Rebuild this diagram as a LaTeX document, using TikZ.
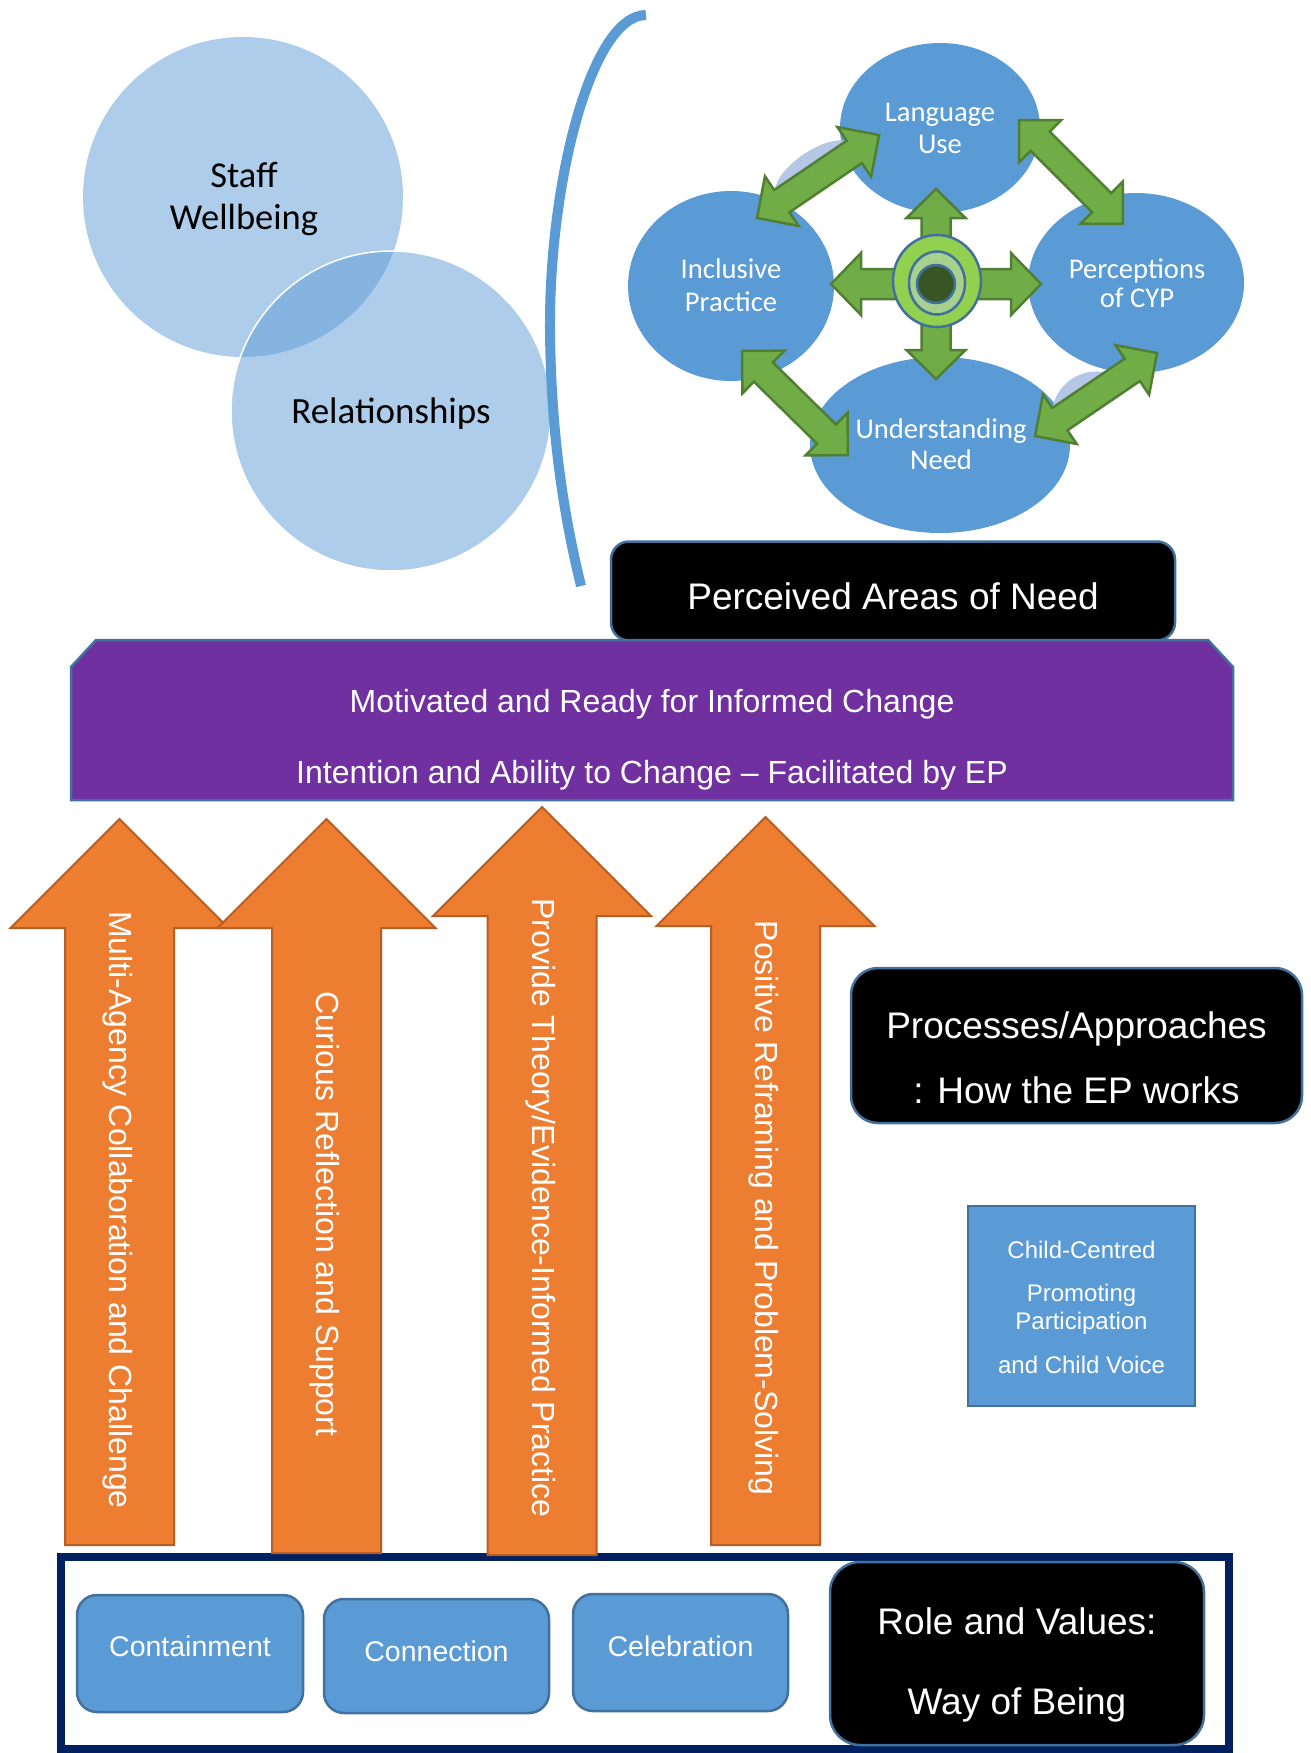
\documentclass[tikz,border=0pt]{standalone}
\usepackage{fontspec}
\setmainfont{Liberation Sans}
\newfontfamily\bodyfont{Carlito}
\usetikzlibrary{shapes.geometric}

\definecolor{accent}{HTML}{5B9BD5}
\definecolor{edge}{HTML}{41719C}
\definecolor{paleaccent}{HTML}{B4C7E7}
\definecolor{orangefill}{HTML}{ED7D31}
\definecolor{orangeedge}{HTML}{B65E23}
\definecolor{purplefill}{HTML}{7030A0}
\definecolor{greenfill}{HTML}{70AD47}
\definecolor{greenedge}{HTML}{507E32}
\definecolor{ringgreen}{HTML}{92D050}
\definecolor{ringpale}{HTML}{A9D18E}
\definecolor{ringdark}{HTML}{375623}
\definecolor{navy}{HTML}{002060}

\newcommand\setpx[1]{\fontsize{#1}{#1}\selectfont}

% double-headed block arrow from a named start point, at an angle, of a given length
\newcommand\twoway[3]{%
  \draw[greenarrow, shift={(#1)}, rotate=#2]
    (0,0) -- (30,30) -- (30,13.5) -- ({#3-30},13.5) -- ({#3-30},30) -- (#3,0)
    -- ({#3-30},-30) -- ({#3-30},-13.5) -- (30,-13.5) -- (30,-30) -- cycle;}

% pale crescent peeking out beside a double arrow
\newcommand\crescent[4]{%
  \fill[paleaccent, shift={(#1)}, rotate=#2]
    (#3,-13) .. controls ({#3+17},-31) and ({#4-17},-31) .. (#4,-13) -- cycle;}

% upward block arrow: name, centre x, tip y, head base y, bottom y
\newcommand\blockup[5]{%
  \draw[orangearrow] (#2,#3) -- ({#2+109},#4) -- ({#2+54.5},#4) -- ({#2+54.5},#5)
    -- ({#2-54.5},#5) -- ({#2-54.5},#4) -- ({#2-109},#4) -- cycle;
  \coordinate (#1) at (#2,#3);}

\tikzset{
  venn/.style={circle, fill=accent, fill opacity=0.5, inner sep=0, minimum size=320pt},
  bubble/.style={ellipse, fill=accent, inner sep=0},
  greenarrow/.style={fill=greenfill, draw=greenedge, line width=2.5pt, line join=miter},
  orangearrow/.style={fill=orangefill, draw=orangeedge, line width=2pt, line join=miter},
  ring/.style={ellipse, draw=edge, line width=2.5pt, inner sep=0},
  darkpanel/.style={rectangle, fill=black, draw=edge, line width=2.5pt, inner sep=0},
  tile/.style={rectangle, fill=accent, draw=edge, line width=2.5pt, inner sep=0},
  lbl/.style={text=white, inner sep=0, anchor=base},
  darklbl/.style={text=black, inner sep=0, anchor=base},
  bubbletext/.style={lbl, font=\bodyfont\setpx{28.6}},
  arrowtext/.style={lbl, rotate=-90, font=\setpx{32}},
}

\begin{document}
\begin{tikzpicture}[x=1pt, y=-1pt]
\useasboundingbox (0,0) rectangle (1311,1753);

% ---- overlapping circles ----
\node[venn] (staff) at (243,197) {};
\node[venn, draw=white, draw opacity=1, line width=1.5pt] (rel) at (391,411) {};
\node[darklbl, font=\bodyfont\setpx{36.5}] (staffA) at (244,187) {Staff};
\node[darklbl, font=\bodyfont\setpx{36.5}] (staffB) at (244,229) {Wellbeing};
\node[darklbl, font=\bodyfont\setpx{37}] (relA) at (391,423) {Relationships};

% ---- bracket ----
\draw[accent, line width=10pt] (646,15) .. controls (592,15) and (549,180) .. (550,330)
  .. controls (551,440) and (565,520) .. (581,586);

% ---- cycle of four bubbles ----
\node[bubble, minimum width=200pt, minimum height=170pt] (lang) at (940,128) {};
\node[bubble, minimum width=206pt, minimum height=190pt] (incl) at (731,286) {};
\node[bubble, minimum width=216pt, minimum height=180pt] (perc) at (1136,283) {};
\node[bubble, minimum width=260pt, minimum height=176pt] (under) at (940,445) {};

\coordinate (a1s) at (757,218);
\coordinate (a2s) at (1019,120);
\coordinate (a3s) at (742,351);
\coordinate (a4s) at (1035,436);
\coordinate (hub) at (936,284);

\crescent{a1s}{34.2}{30}{118}
\crescent{a4s}{34.2}{30}{94}

\twoway{a1s}{34.2}{147.6}
\twoway{a2s}{-45}{147}
\twoway{a3s}{-44.5}{148.5}
\twoway{a4s}{34.2}{147.6}

% four-way arrow at the hub
\draw[greenarrow, shift={(hub)}]
  (0,-95) -- (29.5,-66) -- (14.5,-66) -- (14.5,-15) -- (75,-15) -- (75,-31) -- (105,0)
  -- (75,31) -- (75,15) -- (14.5,15) -- (14.5,66) -- (29.5,66) -- (0,95)
  -- (-29.5,66) -- (-14.5,66) -- (-14.5,15) -- (-75,15) -- (-75,31) -- (-105,0)
  -- (-75,-31) -- (-75,-15) -- (-14.5,-15) -- (-14.5,-66) -- (-29.5,-66) -- cycle;
\node[ring, fill=ringgreen, minimum width=88pt, minimum height=92pt] (hubA) at (937,281) {};
\node[ring, fill=ringpale, minimum width=56pt, minimum height=63pt] (hubB) at (937,283) {};
\node[ring, fill=ringdark, minimum width=38pt, minimum height=38pt] (hubC) at (936,284) {};

\node[bubbletext] (langA) at (940,121) {Language};
\node[bubbletext] (langB) at (940,153) {Use};
\node[bubbletext] (inclA) at (731,278) {Inclusive};
\node[bubbletext] (inclB) at (731,311) {Practice};
\node[bubbletext] (percA) at (1137,278) {Perceptions};
\node[bubbletext] (percB) at (1137,307) {of CYP};
\node[bubbletext] (underA) at (941,438) {Understanding};
\node[bubbletext] (underB) at (941,469) {Need};

% ---- need banner and purple band ----
\node[darkpanel, rounded corners=18pt, minimum width=564pt, minimum height=99pt] (needbox) at (893,591) {};
\node[lbl, font=\setpx{37}] (needtxt) at (893,609) {Perceived Areas of Need};

\draw[fill=purplefill, draw=edge, line width=2.5pt]
  (96,640) -- (1208,640) -- (1233,667) -- (1233,800) -- (71,800) -- (71,667) -- cycle;
\coordinate (band) at (652,720);
\node[lbl, font=\setpx{32}] (bandA) at (652,712) {Motivated and Ready for Informed Change};
\node[lbl, font=\setpx{32}] (bandB) at (652,783) {Intention and Ability to Change – Facilitated by EP};

% ---- base frame ----
\draw[navy, line width=8pt] (61,1557) rectangle (1229,1749);

% ---- upward arrows ----
\blockup{up1}{119.5}{819}{928}{1545}
\blockup{up2}{326.5}{819}{928}{1553}
\blockup{up3}{542}{807}{916}{1555}
\blockup{up4}{765.5}{817}{926}{1545}
\node[arrowtext] (up1t) at (109.5,1210) {Multi-Agency Collaboration and Challenge};
\node[arrowtext] (up2t) at (316.5,1214) {Curious Reflection and Support};
\node[arrowtext] (up3t) at (532,1208) {Provide Theory/Evidence-Informed Practice};
\node[arrowtext] (up4t) at (755.5,1208) {Positive Reframing and Problem-Solving};

% ---- processes panel ----
\node[darkpanel, rounded corners=27pt, minimum width=451pt, minimum height=155pt] (procbox) at (1076.5,1045.5) {};
\node[lbl, font=\setpx{37}] (procA) at (1076.5,1038) {Processes/Approaches};
\node[lbl, font=\setpx{37}] (procB) at (1076.5,1103) {: How the EP works};

\node[tile, minimum width=227pt, minimum height=200pt] (child) at (1081.5,1306) {};
\node[lbl, font=\setpx{24}] (childA) at (1081.5,1258) {Child-Centred};
\node[lbl, font=\setpx{24}] (childB) at (1081.5,1301) {Promoting};
\node[lbl, font=\setpx{24}] (childC) at (1081.5,1329) {Participation};
\node[lbl, font=\setpx{24}] (childD) at (1081.5,1373) {and Child Voice};

% ---- values row ----
\node[tile, rounded corners=20pt, minimum width=226pt, minimum height=117pt] (cont) at (190,1653.5) {};
\node[tile, rounded corners=20pt, minimum width=225pt, minimum height=114pt] (conn) at (436.5,1656) {};
\node[tile, rounded corners=20pt, minimum width=215pt, minimum height=117pt] (celb) at (680.5,1652.5) {};
\node[lbl, font=\setpx{28.5}] (contT) at (190,1656) {Containment};
\node[lbl, font=\setpx{28.5}] (connT) at (436.5,1661) {Connection};
\node[lbl, font=\setpx{28.5}] (celbT) at (680.5,1656) {Celebration};

\node[darkpanel, rounded corners=30pt, minimum width=374pt, minimum height=183pt] (role) at (1017,1653.5) {};
\node[lbl, font=\setpx{37}] (roleA) at (1017,1634) {Role and Values:};
\node[lbl, font=\setpx{37}] (roleB) at (1017,1714) {Way of Being};
\end{tikzpicture}
\end{document}
